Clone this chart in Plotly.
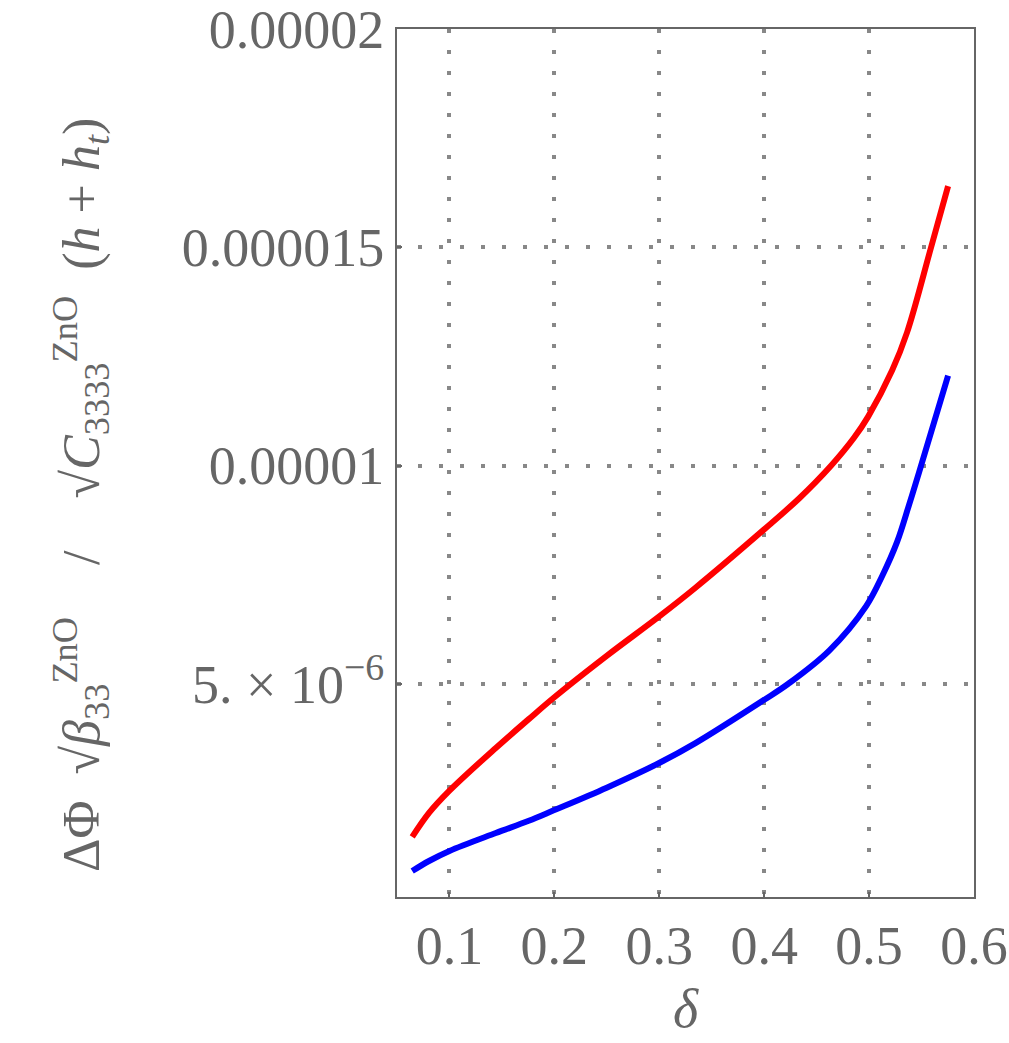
import plotly.graph_objects as go

# ---- data ----
delta_red = [0.0645, 0.0805, 0.1000, 0.1442, 0.1756, 0.1994, 0.2499, 0.3003, 0.3345,
             0.3992, 0.4335, 0.4639, 0.4858, 0.4991, 0.5220, 0.5362, 0.5591, 0.5753]
phi_red = [1.49e-6, 2.04e-6, 2.55e-6, 3.53e-6, 4.19e-6, 4.68e-6, 5.64e-6, 6.55e-6, 7.20e-6,
           8.52e-6, 9.25e-6, 10.00e-6, 10.64e-6, 11.12e-6, 12.18e-6, 13.05e-6, 15.00e-6, 16.40e-6]

delta_blue = [0.0645, 0.0805, 0.1000, 0.1442, 0.1756, 0.1994, 0.2499, 0.3003, 0.3345,
              0.3992, 0.4230, 0.4620, 0.4972, 0.5125, 0.5267, 0.5381, 0.5477, 0.5753]
phi_blue = [0.71e-6, 0.94e-6, 1.17e-6, 1.58e-6, 1.86e-6, 2.10e-6, 2.62e-6, 3.19e-6, 3.64e-6,
            4.62e-6, 5.00e-6, 5.76e-6, 6.78e-6, 7.47e-6, 8.25e-6, 9.10e-6, 9.85e-6, 12.06e-6]

x_tickvals = [0.1, 0.2, 0.3, 0.4, 0.5, 0.6]
x_ticktext = ["0.1", "0.2", "0.3", "0.4", "0.5", "0.6"]
y_tickvals = [5e-6, 1e-5, 1.5e-5, 2e-5]
y_ticktext = ["5. \u00d7 10<sup>\u22126</sup>", "0.00001", "0.000015", "0.00002"]

GRAY = "#666666"
FONT = "Liberation Serif"

fig = go.Figure()
fig.add_trace(go.Scatter(x=delta_red, y=phi_red, mode="lines",
                         line=dict(color="#ff0000", width=6, shape="spline", smoothing=1.0),
                         showlegend=False))
fig.add_trace(go.Scatter(x=delta_blue, y=phi_blue, mode="lines",
                         line=dict(color="#0000ff", width=6, shape="spline", smoothing=1.0),
                         showlegend=False))

ytitle = ("\u0394\u03a6\u2002\u221a<i>\u03b2</i><sub>33</sub><sup>ZnO</sup>\u2003/\u2003"
          "\u221a<i>C</i><sub>3333</sub><sup>ZnO</sup>\u2002(<i>h</i> + <i>h</i><sub><i>t</i></sub>)")

fig.update_layout(
    width=1009, height=1043,
    margin=dict(l=397, r=35, t=29, b=146),
    paper_bgcolor="white", plot_bgcolor="white",
    font=dict(family=FONT, color=GRAY, size=54),
    xaxis=dict(
        range=[0.05, 0.6], tickvals=x_tickvals, ticktext=x_ticktext,
        automargin=False, ticklabeloverflow="allow",
        showgrid=True, gridcolor="#888888", griddash="4px,17px", gridwidth=4,
        showline=True, mirror=True, linecolor=GRAY, linewidth=2,
        ticks="inside", ticklen=5, tickwidth=2, tickcolor=GRAY,
        zeroline=False,
        tickfont=dict(family=FONT, size=54, color=GRAY),
        title=dict(text="<i>\u03b4</i>", font=dict(family=FONT, size=54, color=GRAY), standoff=14),
    ),
    yaxis=dict(
        range=[1.15e-7, 2e-5], tickvals=y_tickvals, ticktext=y_ticktext,
        automargin=False, ticklabeloverflow="allow",
        showgrid=True, gridcolor="#888888", griddash="4px,17px", gridwidth=4,
        showline=True, mirror=True, linecolor=GRAY, linewidth=2,
        ticks="inside", ticklen=5, tickwidth=2, tickcolor=GRAY,
        zeroline=False,
        tickfont=dict(family=FONT, size=54, color=GRAY),
    ),
    annotations=[dict(
        text=ytitle, textangle=-90, showarrow=False,
        xref="paper", yref="paper", x=-0.548, y=0.463,
        xanchor="center", yanchor="middle",
        font=dict(family=FONT, size=52, color=GRAY),
    )],
)

fig.write_html("out.html")
